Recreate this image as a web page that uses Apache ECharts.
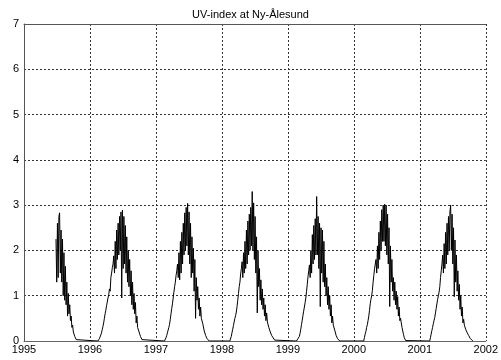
<!DOCTYPE html>
<html>
<head>
<meta charset="utf-8">
<script src="https://cdn.jsdelivr.net/npm/echarts@6/dist/echarts.min.js"></script>
<style>
  html, body { margin: 0; padding: 0; background: #fff; }
  #chart { width: 501px; height: 360px; }
</style>
</head>
<body>
<div id="chart"></div>
<script>
// UV-index series, one reading every 4 days through each sunlit season.
// Each season: first sample date (decimal year) and the UV-index readings.
const stepYears = 4 / 365.25;

const season1995Start = 1995.485;
const season1995 = [2.25, 1.3, 2.6, 1.4, 2.75, 2.83, 1.5, 2.45, 1.3, 2.25, 1.0, 1.95, 0.9, 1.65, 0.8, 1.3,
  0.55, 1.05, 0.6, 0.8, 0.45, 0.55, 0.3, 0.35, 0.2, 0.18, 0.1, 0.06, 0.03, 0.01, 0];

const season1996Start = 1996.12;
const season1996 = [0, 0.02, 0.05, 0.09, 0.13, 0.18, 0.25, 0.32, 0.4, 0.5, 0.6, 0.68, 0.78, 0.86, 0.95, 1.02,
  1.15, 1.1, 1.4, 1.5, 1.62, 1.7, 1.88, 1.5, 2.2, 1.6, 2.45, 1.8, 2.6, 1.9, 2.75, 2.0, 2.85, 0.95, 2.89, 1.6,
  2.75, 1.7, 2.55, 1.5, 2.3, 1.3, 2.0, 1.2, 1.8, 1.0, 1.55, 0.8, 1.3, 0.7, 1.05, 0.6, 0.85, 0.4, 0.55, 0.3,
  0.32, 0.2, 0.15, 0.1, 0.06, 0.03, 0.01, 0];

const season1997Start = 1997.13;
const season1997 = [0, 0.03, 0.07, 0.12, 0.18, 0.24, 0.3, 0.37, 0.48, 0.6, 0.72, 0.82, 0.95, 1.08, 1.2, 1.3,
  1.45, 1.55, 1.7, 1.4, 1.95, 1.35, 2.2, 1.5, 2.4, 1.7, 2.6, 1.9, 2.83, 2.0, 2.95, 2.1, 3.04, 1.9, 2.85, 1.7,
  2.6, 1.4, 2.3, 1.5, 2.05, 1.1, 1.8, 0.5, 1.4, 0.9, 1.2, 0.7, 0.95, 0.55, 0.75, 0.5, 0.5, 0.38, 0.35, 0.22,
  0.2, 0.12, 0.1, 0.05, 0.03, 0.01, 0];

const season1998Start = 1998.12;
const season1998 = [0, 0.04, 0.1, 0.18, 0.26, 0.34, 0.42, 0.5, 0.56, 0.64, 0.76, 0.9, 1.05, 1.2, 1.3, 1.48,
  1.6, 1.75, 1.4, 1.95, 1.5, 2.2, 1.6, 2.45, 1.7, 2.65, 1.9, 2.8, 2.0, 2.95, 2.1, 3.3, 2.0, 3.05, 1.8, 2.75,
  1.5, 2.3, 0.62, 2.0, 1.2, 1.6, 0.9, 1.35, 0.8, 1.15, 0.7, 0.95, 0.55, 0.8, 0.45, 0.62, 0.42, 0.45, 0.3, 0.3,
  0.2, 0.18, 0.12, 0.1, 0.07, 0.04, 0.02, 0.01, 0];

const season1999Start = 1999.13;
const season1999 = [0, 0.02, 0.05, 0.07, 0.1, 0.17, 0.26, 0.36, 0.46, 0.56, 0.66, 0.75, 0.85, 0.95, 1.1, 1.25,
  1.42, 1.55, 1.68, 1.4, 2.0, 1.5, 2.35, 1.7, 2.55, 1.8, 2.7, 1.9, 3.19, 1.9, 2.75, 1.6, 2.6, 0.76, 2.5, 1.5,
  2.45, 1.3, 2.2, 1.2, 1.7, 1.0, 1.4, 0.8, 1.2, 0.7, 1.0, 0.55, 0.8, 0.4, 0.55, 0.35, 0.38, 0.24, 0.2, 0.12,
  0.08, 0.05, 0.03, 0.01, 0];

const season2000Start = 2000.15;
const season2000 = [0, 0.08, 0.15, 0.21, 0.3, 0.36, 0.45, 0.55, 0.68, 0.82, 0.92, 1.0, 1.12, 1.3, 1.45, 1.6,
  1.7, 1.8, 1.5, 2.1, 1.6, 2.4, 1.8, 2.65, 2.0, 2.9, 2.2, 3.0, 2.2, 3.02, 2.1, 3.0, 1.9, 2.8, 1.7, 2.5, 0.76,
  2.1, 1.3, 1.8, 1.1, 1.4, 0.9, 1.3, 0.8, 1.1, 0.7, 0.98, 0.55, 0.75, 0.45, 0.5, 0.4, 0.3, 0.22, 0.15, 0.08,
  0.04, 0.01, 0];

const season2001Start = 2001.15;
const season2001 = [0, 0.07, 0.15, 0.23, 0.3, 0.38, 0.45, 0.52, 0.62, 0.72, 0.82, 0.92, 1.0, 1.08, 1.2, 1.4,
  1.55, 1.7, 1.9, 1.5, 2.15, 1.6, 2.4, 1.7, 2.6, 1.9, 2.75, 2.0, 2.85, 3.0, 2.0, 2.8, 1.7, 2.5, 0.98, 2.23,
  1.3, 1.9, 1.1, 1.55, 0.9, 1.25, 0.7, 1.0, 0.55, 0.75, 0.4, 0.48, 0.35, 0.36, 0.25, 0.26, 0.18, 0.2, 0.12,
  0.1, 0.06, 0.04, 0.02, 0.01, 0];

const seasons = [
  [season1995Start, season1995],
  [season1996Start, season1996],
  [season1997Start, season1997],
  [season1998Start, season1998],
  [season1999Start, season1999],
  [season2000Start, season2000],
  [season2001Start, season2001]
];

const yearTicks = [1995, 1996, 1997, 1998, 1999, 2000, 2001, 2002];
const uvTicks = [0, 1, 2, 3, 4, 5, 6, 7];

// Join the seasons into one time series; winter gaps stay on the zero line.
const uvData = [];
seasons.forEach(([start, values]) => {
  values.forEach((v, i) => uvData.push([start + i * stepYears, v]));
});

const gridLine = { show: true, lineStyle: { color: '#333', type: [2, 2], width: 1 } };
const font = 'Liberation Sans, Arial, sans-serif';

const chart = echarts.init(document.getElementById('chart'), null, { renderer: 'canvas' });
chart.setOption({
  animation: false,
  backgroundColor: '#fff',
  title: {
    text: 'UV-index at Ny-Ålesund',
    left: 'center',
    top: 4,
    textStyle: { fontFamily: font, fontSize: 11, fontWeight: 'normal', color: '#000' }
  },
  grid: { left: 24, right: 15, top: 24, bottom: 19 },
  xAxis: [{
    type: 'value',
    min: yearTicks[0],
    max: yearTicks[yearTicks.length - 1],
    interval: 1,
    axisLine: { show: true, lineStyle: { color: '#666', width: 1 } },
    axisTick: { show: false },
    axisLabel: { color: '#000', fontFamily: font, fontSize: 11, margin: 3, formatter: v => String(v) },
    splitLine: gridLine
  }, {
    type: 'value',
    position: 'top',
    min: yearTicks[0],
    max: yearTicks[yearTicks.length - 1],
    axisLine: { show: true, lineStyle: { color: '#555', width: 1 } },
    axisTick: { show: false },
    axisLabel: { show: false },
    splitLine: { show: false }
  }],
  yAxis: {
    type: 'value',
    min: uvTicks[0],
    max: uvTicks[uvTicks.length - 1],
    interval: 1,
    axisLine: { show: true, lineStyle: { color: '#555', width: 1 } },
    axisTick: { show: false },
    axisLabel: { color: '#000', fontFamily: font, fontSize: 11, margin: 5 },
    splitLine: gridLine
  },
  series: [{
    type: 'line',
    data: uvData,
    showSymbol: false,
    symbol: 'none',
    lineStyle: { color: '#000', width: 1 },
    silent: true
  }]
});
</script>
</body>
</html>
